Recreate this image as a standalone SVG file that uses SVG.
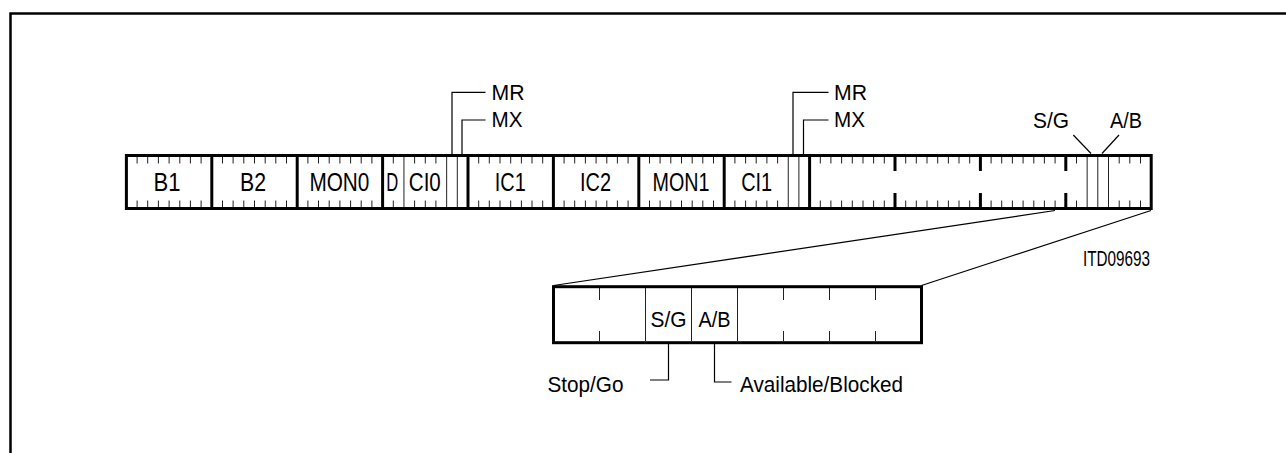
<svg xmlns="http://www.w3.org/2000/svg" width="1286" height="453" viewBox="0 0 1286 453">
<style>
.frame{fill:none;stroke:#000;stroke-width:2.5}
.box{fill:#fff;stroke:#000;stroke-width:3}
.sep{stroke:#000;stroke-width:3}
.tk{stroke:#222;stroke-width:1}
.ld{fill:none;stroke:#000;stroke-width:1.2}
.lb{font-family:"Liberation Sans",Arial,sans-serif;font-size:26px;fill:#000;text-anchor:middle}
.t{font-family:"Liberation Sans",Arial,sans-serif;font-size:22px;fill:#000}
</style>
<path class="frame" d="M10.5 453V13.5H1286"/>

<g id="bar">
<rect class="box" x="126.4" y="155.5" width="1024.8" height="53"/>
<g id="byte-separators">
<line class="sep" x1="211.8" y1="155.5" x2="211.8" y2="208.5"/>
<line class="sep" x1="297.2" y1="155.5" x2="297.2" y2="208.5"/>
<line class="sep" x1="382.6" y1="155.5" x2="382.6" y2="208.5"/>
<line class="sep" x1="468" y1="155.5" x2="468" y2="208.5"/>
<line class="sep" x1="553.4" y1="155.5" x2="553.4" y2="208.5"/>
<line class="sep" x1="638.8" y1="155.5" x2="638.8" y2="208.5"/>
<line class="sep" x1="724.2" y1="155.5" x2="724.2" y2="208.5"/>
<line class="sep" x1="809.6" y1="155.5" x2="809.6" y2="208.5"/>
<path class="sep" d="M895 155.5V171M895 193V208.5M980.4 155.5V171M980.4 193V208.5M1065.8 155.5V171M1065.8 193V208.5"/>
</g>
<g id="ticks">
<path class="tk" d="
M137.1 157V163.5M147.7 157V163.5M158.4 157V163.5M169.1 157V163.5M179.8 157V163.5M190.4 157V163.5M201.1 157V163.5
M137.1 200.5V207M147.7 200.5V207M158.4 200.5V207M169.1 200.5V207M179.8 200.5V207M190.4 200.5V207M201.1 200.5V207
M222.5 157V163.5M233.1 157V163.5M243.8 157V163.5M254.5 157V163.5M265.2 157V163.5M275.8 157V163.5M286.5 157V163.5
M222.5 200.5V207M233.1 200.5V207M243.8 200.5V207M254.5 200.5V207M265.2 200.5V207M275.8 200.5V207M286.5 200.5V207
M307.9 157V163.5M318.5 157V163.5M329.2 157V163.5M339.9 157V163.5M350.6 157V163.5M361.2 157V163.5M371.9 157V163.5
M307.9 200.5V207M318.5 200.5V207M329.2 200.5V207M339.9 200.5V207M350.6 200.5V207M361.2 200.5V207M371.9 200.5V207
M393.3 157V163.5M414.6 157V163.5M425.3 157V163.5M435.9 157V163.5
M393.3 200.5V207M414.6 200.5V207M425.3 200.5V207M435.9 200.5V207
M403.95 157V207M446.65 157V207M457.3 157V207
M478.7 157V163.5M489.3 157V163.5M500 157V163.5M510.7 157V163.5M521.4 157V163.5M532 157V163.5M542.7 157V163.5
M478.7 200.5V207M489.3 200.5V207M500 200.5V207M510.7 200.5V207M521.4 200.5V207M532 200.5V207M542.7 200.5V207
M564.1 157V163.5M574.7 157V163.5M585.4 157V163.5M596.1 157V163.5M606.8 157V163.5M617.4 157V163.5M628.1 157V163.5
M564.1 200.5V207M574.7 200.5V207M585.4 200.5V207M596.1 200.5V207M606.8 200.5V207M617.4 200.5V207M628.1 200.5V207
M649.5 157V163.5M660.1 157V163.5M670.8 157V163.5M681.5 157V163.5M692.2 157V163.5M702.8 157V163.5M713.5 157V163.5
M649.5 200.5V207M660.1 200.5V207M670.8 200.5V207M681.5 200.5V207M692.2 200.5V207M702.8 200.5V207M713.5 200.5V207
M734.9 157V163.5M745.6 157V163.5M756.2 157V163.5M766.9 157V163.5M777.6 157V163.5
M734.9 200.5V207M745.6 200.5V207M756.2 200.5V207M766.9 200.5V207M777.6 200.5V207
M788.25 157V207M798.9 157V207
M820.3 157V163.5M830.9 157V163.5M841.6 157V163.5M852.3 157V163.5M863 157V163.5M873.6 157V163.5M884.3 157V163.5
M820.3 200.5V207M830.9 200.5V207M841.6 200.5V207M852.3 200.5V207M863 200.5V207M873.6 200.5V207M884.3 200.5V207
M905.7 157V163.5M916.3 157V163.5M927 157V163.5M937.7 157V163.5M948.4 157V163.5M959 157V163.5M969.7 157V163.5
M905.7 200.5V207M916.3 200.5V207M927 200.5V207M937.7 200.5V207M948.4 200.5V207M959 200.5V207M969.7 200.5V207
M991.1 157V163.5M1001.7 157V163.5M1012.4 157V163.5M1023.1 157V163.5M1033.8 157V163.5M1044.4 157V163.5M1055.1 157V163.5
M991.1 200.5V207M1001.7 200.5V207M1012.4 200.5V207M1023.1 200.5V207M1033.8 200.5V207M1044.4 200.5V207M1055.1 200.5V207
M1076.5 157V163.5M1119.2 157V163.5M1129.8 157V163.5M1140.5 157V163.5
M1076.5 200.5V207M1119.2 200.5V207M1129.8 200.5V207M1140.5 200.5V207
M1087.15 157V207M1097.8 157V207M1108.5 157V207"/>
</g>
<g id="byte-B1"><text class="lb" x="167" y="191" textLength="27" lengthAdjust="spacingAndGlyphs">B1</text></g>
<g id="byte-B2"><text class="lb" x="253" y="191" textLength="26" lengthAdjust="spacingAndGlyphs">B2</text></g>
<g id="byte-MON0"><text class="lb" x="339.4" y="191" textLength="60" lengthAdjust="spacingAndGlyphs">MON0</text></g>
<g id="field-D"><text class="lb" x="392.3" y="191" textLength="12" lengthAdjust="spacingAndGlyphs">D</text></g>
<g id="field-CI0"><text class="lb" x="424.8" y="191" textLength="32" lengthAdjust="spacingAndGlyphs">CI0</text></g>
<g id="byte-IC1"><text class="lb" x="510.3" y="191" textLength="31" lengthAdjust="spacingAndGlyphs">IC1</text></g>
<g id="byte-IC2"><text class="lb" x="595.5" y="191" textLength="31" lengthAdjust="spacingAndGlyphs">IC2</text></g>
<g id="byte-MON1"><text class="lb" x="681" y="191" textLength="57" lengthAdjust="spacingAndGlyphs">MON1</text></g>
<g id="field-CI1"><text class="lb" x="756.7" y="191" textLength="31" lengthAdjust="spacingAndGlyphs">CI1</text></g>
</g>

<g id="expanded-byte">
<rect class="box" x="553.5" y="286.7" width="368" height="56"/>
<path class="tk" d="M599.5 288V300M599.5 331V341M783.5 288V300M783.5 331V341M829.5 288V300M829.5 331V341M875.5 288V300M875.5 331V341M645.5 288V341M691.5 288V341M737.5 288V341"/>
<text class="t" x="668.5" y="326.5" text-anchor="middle" textLength="36" lengthAdjust="spacingAndGlyphs">S/G</text>
<text class="t" x="714.5" y="326.5" text-anchor="middle" textLength="32" lengthAdjust="spacingAndGlyphs">A/B</text>
</g>

<g id="labels">
<text class="t" x="491.5" y="99.5" textLength="33" lengthAdjust="spacingAndGlyphs">MR</text>
<text class="t" x="491.5" y="127" textLength="31" lengthAdjust="spacingAndGlyphs">MX</text>
<text class="t" x="834" y="99.5" textLength="33" lengthAdjust="spacingAndGlyphs">MR</text>
<text class="t" x="834" y="127" textLength="31" lengthAdjust="spacingAndGlyphs">MX</text>
<text class="t" x="1033" y="128.3" textLength="36" lengthAdjust="spacingAndGlyphs">S/G</text>
<text class="t" x="1110" y="128.3" textLength="32" lengthAdjust="spacingAndGlyphs">A/B</text>
<text class="t" x="547.5" y="391.7" textLength="76" lengthAdjust="spacingAndGlyphs">Stop/Go</text>
<text class="t" x="740" y="391.7" textLength="163" lengthAdjust="spacingAndGlyphs">Available/Blocked</text>
<text class="t" x="1150" y="266" text-anchor="end" font-size="17" textLength="67" lengthAdjust="spacingAndGlyphs">ITD09693</text>
</g>

<g id="connectors">
<path class="ld" d="M452 155V92.3H485.5"/>
<path class="ld" d="M462 155V120H485.5"/>
<path class="ld" d="M793 155V92.3H828.5"/>
<path class="ld" d="M803.5 155V120H828.5"/>
<path class="ld" d="M1073.3 135L1091 153.5"/>
<path class="ld" d="M1119 135L1102 153.5"/>
<path class="ld" d="M668.5 344V380H650"/>
<path class="ld" d="M714.5 344V382H731.5"/>
<path class="ld" d="M1055 210.5L553.5 285.5"/>
<path class="ld" d="M1151 210.5L921.5 285.5"/>
</g>
</svg>
